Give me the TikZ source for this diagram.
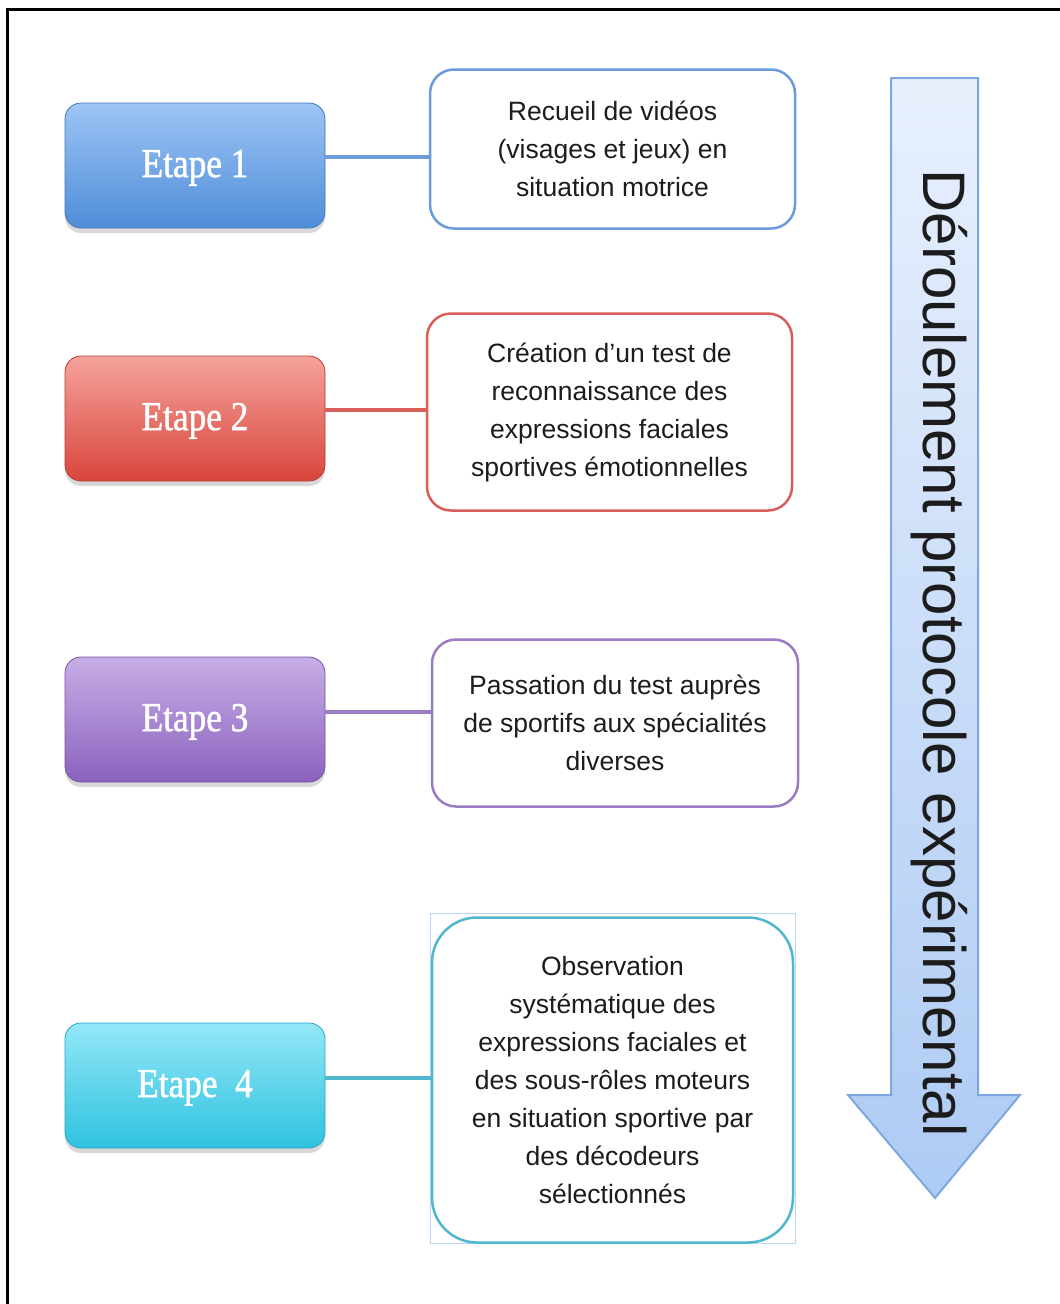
\documentclass[tikz,border=0pt]{standalone}
\usepackage{fontspec}
\setmainfont{Liberation Sans}
\newfontfamily\etfont[FakeStretch=0.86,FakeBold=1.2]{Liberation Serif}
\usetikzlibrary{shadows}
\definecolor{bTop}{HTML}{9EC5F5}\definecolor{bBot}{HTML}{4E8DD8}\definecolor{bLine}{HTML}{6A9BDB}
\definecolor{rTop}{HTML}{F5A39C}\definecolor{rBot}{HTML}{D8453C}\definecolor{rLine}{HTML}{D9605A}
\definecolor{pTop}{HTML}{C8AEE6}\definecolor{pBot}{HTML}{8A62BE}\definecolor{pLine}{HTML}{9B7BC2}
\definecolor{cTop}{HTML}{93E7F7}\definecolor{cBot}{HTML}{2FC2DF}\definecolor{cLine}{HTML}{4FB8CE}
\definecolor{aTop}{HTML}{E8F0FD}\definecolor{aBot}{HTML}{AECBF4}\definecolor{aLine}{HTML}{7EA6E0}
\definecolor{txt}{HTML}{1C1C1C}
\tikzset{
  etbox/.style={rounded corners=16pt, minimum width=260pt, minimum height=125pt,
    text=white, font=\etfont\fontsize{41}{44}\selectfont, text depth=4pt,
    drop shadow={shadow xshift=0pt, shadow yshift=-5pt, opacity=0.25, fill=black!60},
    draw=#1Bot!85!black, line width=0.8pt, top color=#1Top, bottom color=#1Bot},
  txbox/.style={rounded corners=24pt, draw=#1Line, line width=2.5pt, fill=white,
    align=center, text=txt, font=\fontsize{26.5}{38}\selectfont, inner sep=0pt},
  link/.style={draw=#1Line, line width=3.5pt}
}
\begin{document}
\begin{tikzpicture}[x=1pt,y=-1pt]
\useasboundingbox (0,0) rectangle (1060,1304);
\fill[white] (0,0) rectangle (1060,1304);
% frame
\draw[line width=3pt] (7,1304) -- (7,9) -- (1060,9);

% step boxes
\node[etbox=b] (e1) at (195,165.5) {Etape 1};
\node[etbox=r] (e2) at (195,418.5) {Etape 2};
\node[etbox=p] (e3) at (195,719.5) {Etape 3};
\node[etbox=c] (e4) at (195,1085.5) {Etape\ \ 4};

% text boxes
\node[txbox=b, minimum width=365pt, minimum height=159pt] (t1) at (612.5,149)
  {Recueil de vidéos\\(visages et jeux) en\\situation motrice};
\node[txbox=r, minimum width=365pt, minimum height=197pt] (t2) at (609.5,412)
  {Création d’un test de\\reconnaissance des\\expressions faciales\\sportives émotionnelles};
\node[txbox=p, minimum width=366pt, minimum height=167pt] (t3) at (615,723)
  {Passation du test auprès\\de sportifs aux spécialités\\diverses};
\node[draw=bTop!70, line width=1pt, minimum width=365pt, minimum height=330pt] (sel) at (612.5,1078) {};
\node[txbox=c, rounded corners=45pt, minimum width=361pt, minimum height=325pt] (t4) at (612.5,1080)
  {Observation\\systématique des\\expressions faciales et\\des sous-rôles moteurs\\en situation sportive par\\des décodeurs\\sélectionnés};

% connectors
\draw[link=b] (e1.east |- 0,157) -- (t1.west |- 0,157);
\draw[link=r] (e2.east |- 0,410) -- (t2.west |- 0,410);
\draw[link=p] (e3.east |- 0,712) -- (t3.west |- 0,712);
\draw[link=c] (e4.east |- 0,1078) -- (t4.west |- 0,1078);

% big arrow
\draw[draw=aLine, line width=2pt, top color=aTop, bottom color=aBot]
  (891,78) -- (978,78) -- (978,1095) -- (1020,1095) -- (935,1198) -- (848,1095) -- (891,1095) -- cycle;
\node[rotate=-90, text=txt, font=\fontsize{60}{60}\selectfont] (lbl) at (939,653) {Déroulement protocole expérimental};
\end{tikzpicture}
\end{document}
